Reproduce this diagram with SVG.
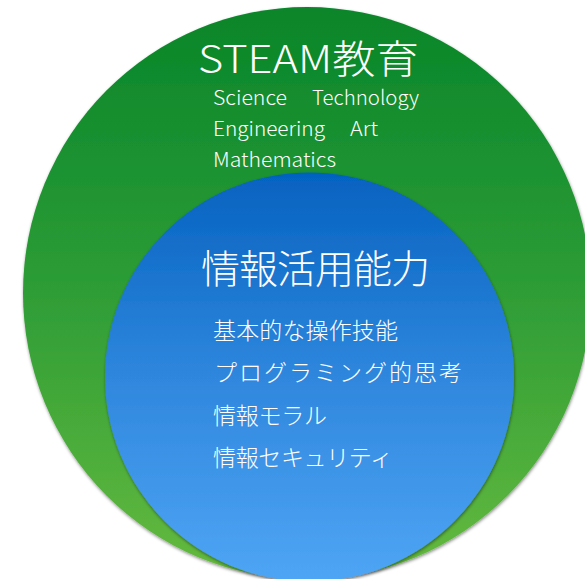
<svg xmlns="http://www.w3.org/2000/svg" width="585" height="579" viewBox="0 0 585 579">
  <defs>
    <linearGradient id="gGreen" x1="0" y1="0" x2="0" y2="1">
      <stop offset="0" stop-color="#07852A"/>
      <stop offset="0.5" stop-color="#2E9D36"/>
      <stop offset="1" stop-color="#65BA3E"/>
    </linearGradient>
    <linearGradient id="gBlue" x1="0" y1="0" x2="0" y2="1">
      <stop offset="0" stop-color="#0562C0"/>
      <stop offset="0.5" stop-color="#2F87DD"/>
      <stop offset="1" stop-color="#4FA5F5"/>
    </linearGradient>
    <filter id="shadow" x="-10%" y="-10%" width="120%" height="120%">
      <feDropShadow dx="0.5" dy="1.5" stdDeviation="1.5" flood-color="#000" flood-opacity="0.45"/>
    </filter>
  </defs>
  <style>
    .t { fill: #ffffff; font-family: "Noto Sans CJK JP", "Noto Sans", sans-serif; font-weight: 300; }
    .title { font-size: 39px; }
    .sub { font-size: 20px; }
    .item { font-size: 23px; }
  </style>
  <rect width="585" height="579" fill="#ffffff"/>
  <g id="steam">
    <ellipse cx="307" cy="293" rx="284" ry="286" fill="url(#gGreen)" filter="url(#shadow)"/>
    <text class="t title" x="198" y="73" textLength="221" lengthAdjust="spacingAndGlyphs">STEAM教育</text>
    <text class="t sub" x="213" y="105" textLength="74" lengthAdjust="spacingAndGlyphs">Science</text>
    <text class="t sub" x="312" y="105" textLength="107" lengthAdjust="spacingAndGlyphs">Technology</text>
    <text class="t sub" x="213" y="136" textLength="112" lengthAdjust="spacingAndGlyphs">Engineering</text>
    <text class="t sub" x="350" y="136" textLength="28" lengthAdjust="spacingAndGlyphs">Art</text>
    <text class="t sub" x="213" y="167" textLength="123" lengthAdjust="spacingAndGlyphs">Mathematics</text>
  </g>
  <g id="info">
    <circle cx="309.5" cy="377" r="204.5" fill="url(#gBlue)" filter="url(#shadow)"/>
    <text class="t title" x="201" y="283" textLength="229">情報活用能力</text>
    <text class="t item" x="213" y="339" textLength="185">基本的な操作技能</text>
    <text class="t item" x="214" y="381" textLength="248">プログラミング的思考</text>
    <text class="t item" x="213" y="424" textLength="114">情報モラル</text>
    <text class="t item" x="213" y="466" textLength="180">情報セキュリティ</text>
  </g>
  <g id="connectors"/>
</svg>
